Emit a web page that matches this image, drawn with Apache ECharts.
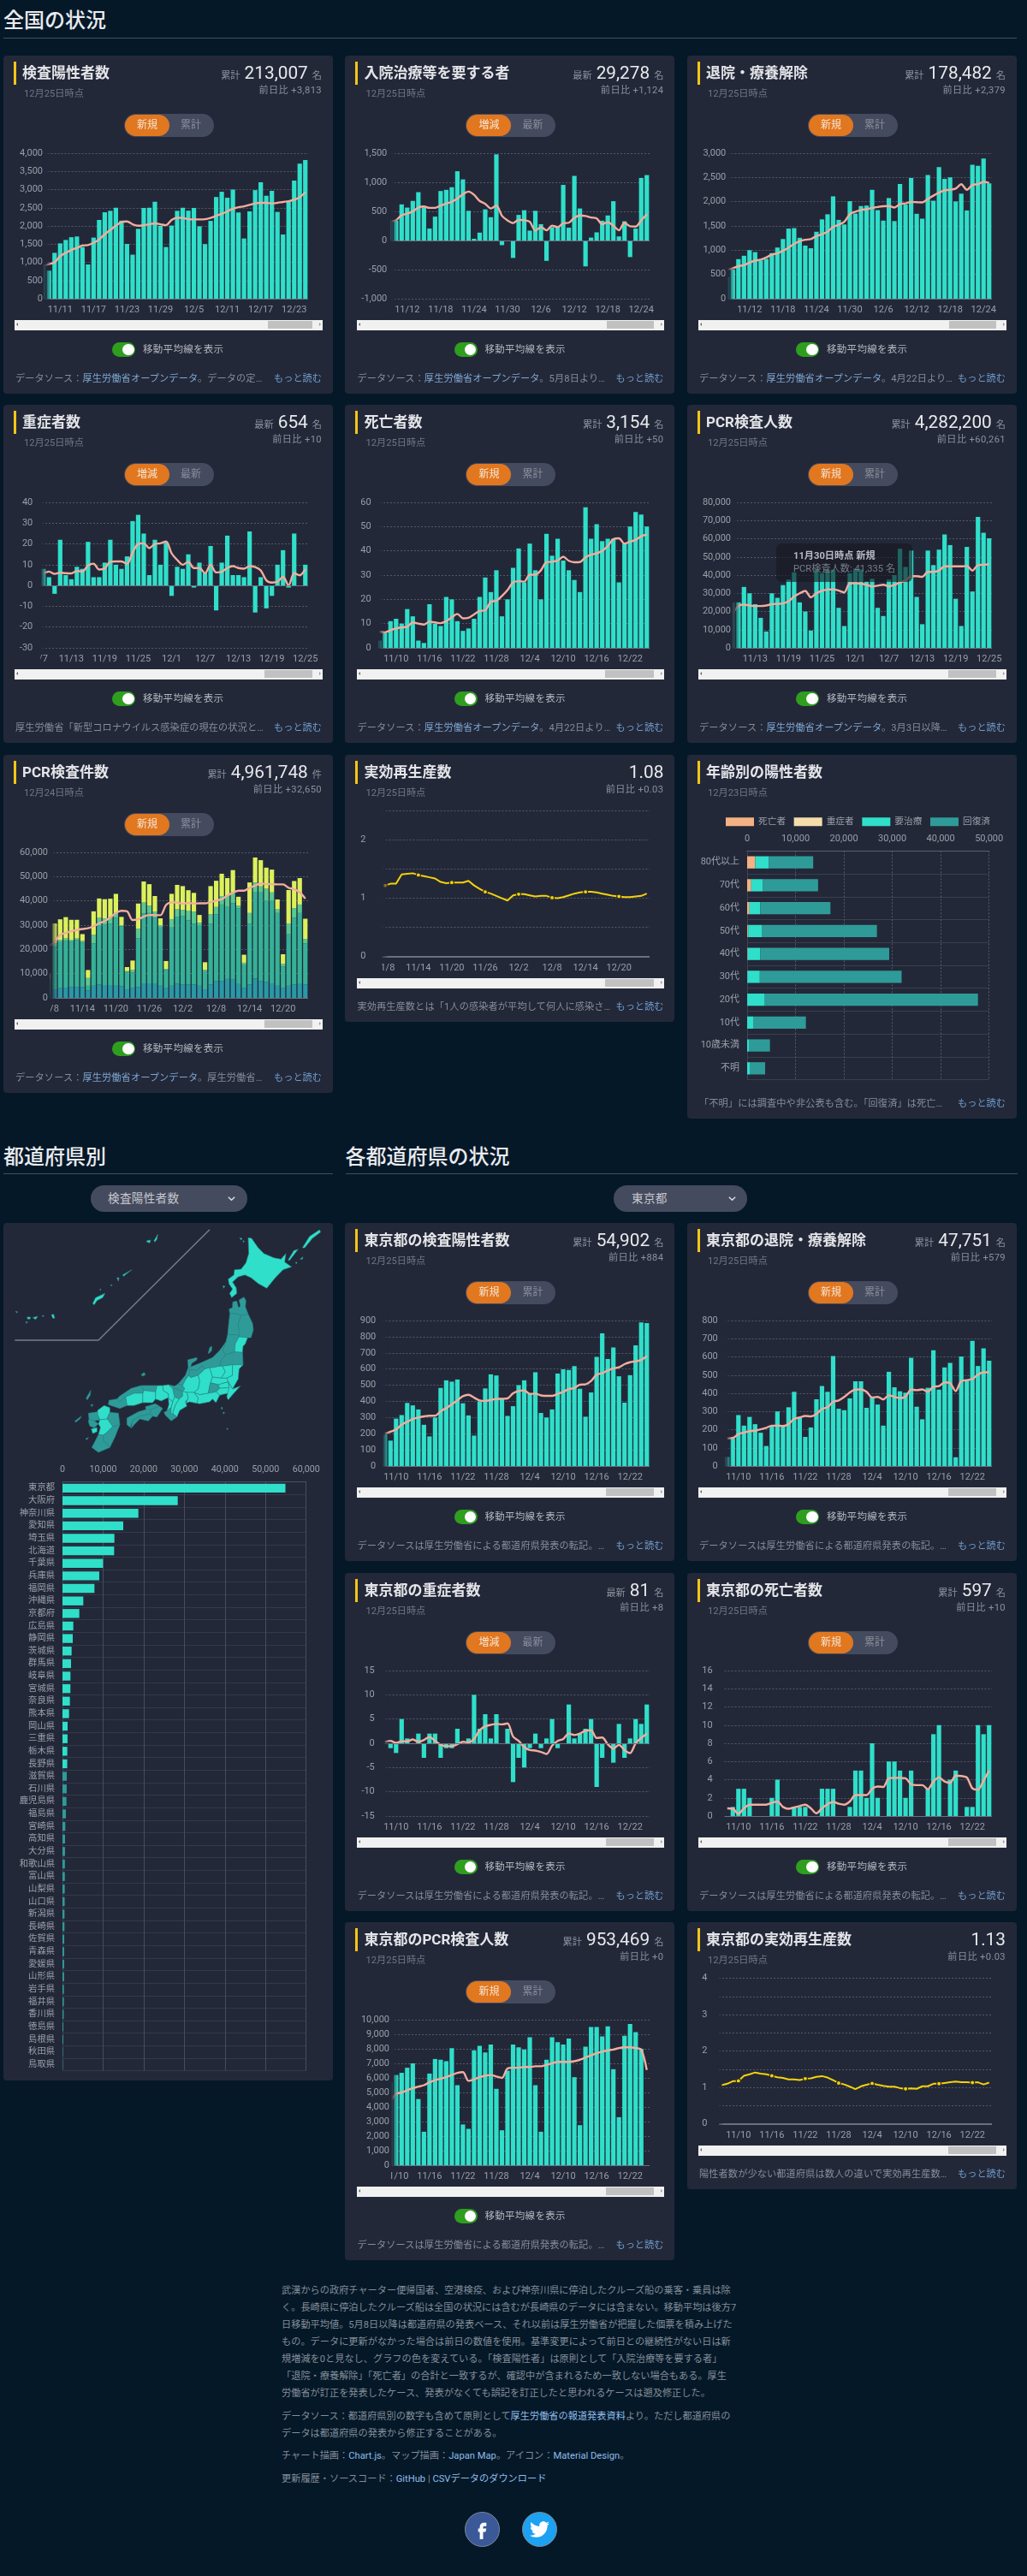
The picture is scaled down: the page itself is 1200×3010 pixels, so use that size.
<!DOCTYPE html>
<html lang="ja"><head><meta charset="utf-8">
<script src="https://cdn.jsdelivr.net/npm/echarts@6/dist/echarts.min.js"></script>
<style>
html,body{margin:0;padding:0;background:#051828;width:1200px;height:3010px;overflow:hidden;font-family:Roboto,"Noto Sans CJK JP",sans-serif;color:#ddd}
.abs{position:absolute;white-space:nowrap}
.h2{font-size:24px;font-weight:500;color:#e9ebee;line-height:30px}
.rule{height:1px;background:#40505f}
.card{position:absolute;background:#232839;border-radius:4px}
.chart{position:absolute;left:0;top:0}
.ybar{position:absolute;left:12px;top:7px;width:3px;height:27px;background:#f5c518}
.title{position:absolute;left:22px;top:6px;font-size:17px;line-height:28px;font-weight:700;color:#e4e5e8;white-space:nowrap}
.date{position:absolute;left:24px;top:37px;font-size:11.2px;line-height:16px;color:#6f7786;white-space:nowrap}
.stat{position:absolute;right:13px;top:5px;line-height:30px;display:flex;align-items:baseline;gap:5px;white-space:nowrap;color:#e9eaec;font-size:20.8px}
.stat small{font-size:11.2px;color:#8b909c}
.delta{position:absolute;right:13px;top:33px;font-size:11.2px;line-height:16px;color:#8b909c;white-space:nowrap;letter-spacing:.35px}
.tog{position:absolute;left:141px;top:67.5px;width:105px;height:27.5px;border-radius:14px;background:#454b5e;font-size:12px;line-height:27.5px;color:#8a8f9c}
.tog i{position:absolute;left:1px;top:1.2px;width:52px;height:25px;border-radius:13px;background:#e1771f}
.tog b,.tog span{position:absolute;top:0;font-weight:400;width:52px;text-align:center}
.tog b{left:1px;color:#f6e6d6}.tog span{left:52px}
.sw{position:absolute;left:127.3px;top:335px;width:27px;height:17px;border-radius:9px;background:#2f9e1f}
.sw i{position:absolute;right:1.5px;top:1.8px;width:13.4px;height:13.4px;border-radius:50%;background:#fff}
.swl{position:absolute;left:163px;top:335px;font-size:11.5px;line-height:17px;color:#b3b6be;white-space:nowrap;letter-spacing:.3px}
.scr{position:absolute;left:13.3px;top:309px;width:359.4px;height:11.7px;background:#f1f1f1}
.note{position:absolute;left:14px;font-size:11.2px;line-height:16px;color:#858c9a;white-space:nowrap;letter-spacing:.1px}
.note a,.foot a{color:#7ea7d2;text-decoration:none}
.more{position:absolute;right:13px;font-size:11.2px;line-height:16px;color:#6e9ccb;white-space:nowrap}
.dd{position:absolute;top:1385px;height:31px;border-radius:16px;background:#454b5e;font-size:13.6px;line-height:31px;color:#c5c8cf;letter-spacing:.3px}
.dd svg{position:absolute;top:10px}
.foot{position:absolute;left:329px;top:2667px;width:545px;font-size:11.2px;line-height:20px;color:#828d98}
.foot p{margin:0 0 6.7px;white-space:nowrap}
.foot a{color:#8fbce8}
.tip{position:absolute;background:rgba(22,24,32,.62);border-radius:6px;font-size:11.2px;line-height:15px;color:#777d89;padding:0;white-space:nowrap}
.soc{position:absolute;top:2935px;width:39px;height:39px;border-radius:50%;border:.8px solid #7c8a96}
.soc svg{position:absolute;left:8px;top:8px;width:23px;height:23px;fill:#fff}
</style></head><body>
<script>
/* ---------- data ---------- */
const dates=['11/7','11/8','11/9','11/10','11/11','11/12','11/13','11/14','11/15','11/16','11/17','11/18','11/19','11/20','11/21','11/22','11/23','11/24','11/25','11/26','11/27','11/28','11/29','11/30','12/1','12/2','12/3','12/4','12/5','12/6','12/7','12/8','12/9','12/10','12/11','12/12','12/13','12/14','12/15','12/16','12/17','12/18','12/19','12/20','12/21','12/22','12/23','12/24','12/25'];

const positiveBars=[910,770,1260,1520,1615,1690,1710,1420,940,1680,2165,2375,2415,2500,2145,1505,1210,1920,2495,2500,2665,2005,1420,2010,2415,2500,2420,2495,1990,1500,2140,2795,2940,2775,3000,2370,1655,2400,2985,3200,2830,2965,2385,1765,2665,3250,3710,3813];
const positiveAvg=[910,950,1000,1170,1260,1340,1395,1460,1475,1535,1630,1770,1890,2005,2110,2125,2045,2005,2020,2045,2070,2045,2020,2165,2225,2220,2185,2180,2180,2185,2220,2280,2335,2400,2475,2515,2540,2580,2620,2635,2635,2620,2635,2660,2680,2720,2790,2930];
const hospitalBars=[330,340,620,565,680,830,570,205,410,850,870,915,1190,1050,510,30,135,535,400,1480,-80,-15,-300,440,520,170,510,280,-350,230,230,955,220,1110,550,-445,50,140,340,430,675,70,330,-285,205,1075,1124];
const hospitalAvg=[330,350,435,460,500,565,585,560,560,600,635,665,720,795,840,785,680,630,550,600,425,345,300,355,350,320,170,230,175,255,230,295,305,390,430,420,395,380,280,315,255,175,305,245,240,345,450];
const dischargeBars=[450,600,815,885,1000,960,790,820,940,1055,1230,1445,1455,1255,1095,1040,1380,1635,1740,2110,1625,1530,2010,1755,1910,1920,2245,1825,1610,2075,1600,2365,1940,2490,1750,1650,2550,2020,2715,2470,2500,2005,2165,1820,2760,2740,2890,2379];
const dischargeAvg=[600,630,670,690,745,785,805,850,910,935,990,1050,1130,1185,1215,1230,1290,1330,1380,1480,1525,1585,1740,1795,1830,1845,1870,1890,1905,1910,1880,1950,1965,1995,1990,1985,2055,2125,2185,2235,2245,2270,2360,2245,2345,2360,2410,2390];
const severeBars=[null,8,4,-4,22,5,3,9,8,21,4,4,11,22,10,8,14,31,34,25,5,22,10,21,-5,9,8,15,-1,11,6,19,-12,11,24,5,5,4,26,-13,4,-11,-5,10,17,-1,25,0,10];
const severeAvg=[null,5.9,6.7,5.6,6.2,5.9,5.8,7,6.7,9.6,10.5,7.7,8.2,11.4,11.6,11.6,10.4,15.9,20,20.3,18,20,20.3,21.2,15.5,12.3,10,11.4,8.4,8.4,5.9,10,6.3,6.6,8.4,9.3,8.4,8.1,9.3,8.9,7.3,2.5,1.4,1.8,4.2,0,5.9,4.9,7.8];
const deathBars=[3,6,11,12,10,16,13,3,2,18,10,9,21,20,11,7,8,12,21,29,23,32,13,20,33,41,27,43,32,20,47,38,45,36,32,28,23,58,45,51,44,45,45,27,43,50,56,55,50];
const deathAvg=[6.7,6.4,7.3,8,8.4,8.7,10.5,10,9.6,10.8,10.5,10.2,11,12.6,14,12.2,12.4,13.8,15.2,15.5,19,19.4,21.4,23.8,27,27.5,27.3,30.2,30.2,32,35.3,35.5,36,37.6,35.9,35.3,35.4,37.3,38.4,39,40,42,44.8,45.2,43,43.8,44.5,46,46.7];
const pcrPeopleBars=[25000,25000,33500,30000,24000,16500,9000,30000,27500,34500,37500,41500,25000,20000,9500,43000,41000,43000,43000,22000,12000,41000,43500,43000,36500,38000,22000,17500,37500,40000,54500,44500,53500,28000,13000,53500,45500,54000,62300,56500,27000,12000,55500,31000,72000,63300,60261];
const pcrPeopleAvg=[19000,23000,23800,23300,23000,23000,23300,24000,24200,24400,25600,28200,30000,31300,27800,30000,31500,32000,32200,31500,30500,35500,35500,35300,34700,33800,34200,34700,33800,34700,36000,37000,39400,39400,39000,41800,41800,42500,44800,44800,44800,44800,45000,42500,45500,45700,46000];
/* PCR test counts: the four stacked layers, written as the height each layer reaches */
const pcrLayerA=[3000,3500,4000,4200,4500,4500,4500,3000,5000,5500,5300,5300,5000,4800,3500,4200,4500,6000,6000,6000,5000,4000,5000,5800,5500,5500,5500,5000,3500,5500,7000,7000,7800,7500,6000,4000,5500,8000,7000,6500,6000,5000,4000,5000,5500,6000,5500];
const pcrLayerB=[7000,21000,23000,23600,23200,23800,22800,5000,22500,30000,30300,30500,33000,29500,10700,10500,24500,34800,35000,33000,29000,11500,29000,33500,33800,32000,30500,30000,11000,30500,34500,38500,37500,39000,37000,13500,30500,43500,43500,40000,40000,35000,13000,26200,33000,35000,22500];
const pcrLayerC=[8000,22500,24000,24500,24000,24500,23500,8200,26000,33000,32800,33000,35000,30000,11000,11500,28500,39300,38000,35500,30000,12000,32500,36500,36300,36000,35500,31000,11500,34500,37500,42000,42000,43500,38000,14500,35000,47500,46000,45000,43500,36500,14000,30700,37000,38500,24200];
const pcrTotal=[10000,30700,32400,33300,32200,32200,26300,11500,35700,41000,40700,40900,42900,33400,12700,15400,38900,48000,46900,42000,32800,15200,42900,46600,46100,44400,43300,34200,14700,46100,48300,51200,49400,52700,41700,17800,47600,57900,56800,53700,52900,40600,18000,44500,48200,49400,32650];
const pcrTestsAvg=[21600,23000,26000,26800,27500,28000,28400,28700,29600,30700,31700,33200,35000,35900,35700,32100,32400,33500,34200,34100,34100,38300,39400,39300,38800,39200,38900,39000,39000,39500,40100,40700,42200,43400,44200,44200,45400,46300,47200,46900,46900,46800,46800,45400,44800,43600,40900];
const rtNational=[1.22,1.25,1.25,1.41,1.42,1.43,1.40,1.38,1.36,1.34,1.28,1.26,1.27,1.27,1.27,1.30,1.22,1.16,1.11,1.08,1.04,1.00,0.96,1.05,1.07,1.07,1.05,1.03,1.04,1.04,1.01,1.00,1.02,1.05,1.08,1.10,1.11,1.11,1.10,1.08,1.06,1.04,1.03,1.02,1.02,1.03,1.04,1.08];

const ageGroups=['80代以上','70代','60代','50代','40代','30代','20代','10代','10歳未満','不明'];
const ageDeaths=[1650,770,350,120,50,20,5,1,0,0];
const ageSevere=[30,90,120,110,60,20,5,0,0,0];
const ageCare=[2830,2420,2240,2890,2600,2580,3650,1240,350,530];
const ageRecovered=[9140,11380,14500,23700,26650,29300,44040,10900,4360,3180];
const ageLegend=['死亡者','重症者','要治療','回復済'];

const prefNames=['東京都','大阪府','神奈川県','愛知県','埼玉県','北海道','千葉県','兵庫県','福岡県','沖縄県','京都府','広島県','静岡県','茨城県','群馬県','岐阜県','宮城県','奈良県','熊本県','岡山県','三重県','栃木県','長野県','滋賀県','石川県','鹿児島県','福島県','宮崎県','高知県','大分県','和歌山県','富山県','山梨県','山口県','新潟県','長崎県','佐賀県','青森県','愛媛県','山形県','岩手県','福井県','香川県','徳島県','島根県','秋田県','鳥取県'];
const prefPositive=[54902,28385,18690,14965,12790,12720,9977,9060,7870,5130,4145,2670,2530,2250,2108,1967,1950,1827,1616,1265,1250,1190,1170,1050,1040,980,850,700,630,620,600,580,560,540,500,490,430,420,410,400,350,340,300,220,210,110,70];

const tokyoPositiveBars=[195,157,293,315,390,375,350,255,183,300,483,530,522,535,388,313,188,400,480,567,560,415,310,370,500,530,450,580,328,300,350,572,598,594,618,478,305,455,675,820,662,733,555,392,562,746,888,884];
const tokyoPositiveAvg=[200,212,226,256,274,291,300,307,311,311,339,358,381,406,432,441,423,406,402,409,415,416,418,450,464,468,446,448,437,434,434,446,459,476,483,503,505,526,565,574,591,604,611,630,642,648,656,680];
const tokyoDischargeBars=[50,150,280,222,270,230,183,110,220,300,220,323,408,265,160,212,367,440,408,605,315,307,372,466,466,320,380,338,222,518,433,411,403,595,326,257,430,637,420,542,567,48,602,470,688,550,647,579];
const tokyoDischargeAvg=[152,154,176,184,192,194,202,210,222,222,220,231,259,267,275,273,286,314,323,353,361,380,405,420,421,408,377,380,366,389,380,373,381,420,417,421,408,436,439,460,455,412,467,472,478,502,515,515];
const tokyoSevereBars=[0,-1,-2,5,1,0,2,-3,2,2,-3,-1,-1,3,0,1,10,3,6,1,6,0,3,-8,-3,-5,-1,2,-1,1,5,-1,0,8,1,2,3,5,-9,-3,0,-4,4,-3,1,5,4,8];
const tokyoSevereAvg=[.3,.5,.1,.4,.4,.8,.3,.7,1.3,.5,-.3,-.6,-.6,-.2,.3,.2,.9,2.7,3.5,3.8,4,3.9,4.1,1.4,.5,-.8,-1.4,-1.5,-1.8,-2.2,-.5,.5,.9,2,1.7,2,2.6,2.7,1.1,1.2,-.2,-1.1,-.3,-1.4,-2,0,1.1,2];
const tokyoDeathBars=[0,1,3,3,2,0,0,0,2,4,0,0,1,1,1,0,0,3,3,3,0,0,1,5,5,2,8,2,0,6,6,5,2,5,0,0,3,9,10,0,4,5,0,1,1,10,9,10];
const tokyoDeathAvg=[.85,.8,.25,.85,1.25,1.25,1.25,1.25,1.45,1.6,1,.8,.95,1.1,1.25,.85,.3,.85,1.3,1.55,1.35,1.25,1.6,2.3,2.3,2.3,3,3.25,3.2,4.15,4.2,4.2,4.15,3.5,3.4,3.4,2.95,3.8,4.25,3.8,3.65,4.45,4.4,4.25,3.05,2.9,3.9,5];
const tokyoPcrBars=[5700,6200,6350,6700,7000,4550,2300,6300,7300,7250,7150,8050,5500,2800,2500,7900,8200,7750,8300,5250,2400,6500,8300,8100,7950,8800,5500,2300,7250,8800,8450,8300,8700,6050,2750,8150,9500,9500,8850,9550,6600,3300,8900,9700,9150,8000,0];
const tokyoPcrAvg=[4400,4900,5000,5150,5300,5400,5500,5700,5850,5950,6050,6200,6350,6400,5800,5900,6050,6150,6200,6100,6000,6650,6700,6700,6750,6750,6800,6800,6900,7000,7100,7100,7100,7150,7250,7400,7550,7700,7800,7900,7950,8050,8100,8100,8050,7950,6550];
const rtTokyo=[1.06,1.10,1.17,1.18,1.32,1.36,1.41,1.38,1.36,1.32,1.28,1.26,1.22,1.22,1.20,1.24,1.25,1.29,1.31,1.27,1.20,1.12,1.08,1.02,0.95,1.03,1.07,1.11,1.07,1.04,1.02,1.02,0.98,0.96,0.97,0.96,1.03,1.03,1.10,1.10,1.12,1.14,1.16,1.14,1.14,1.13,1.14,1.08,1.13];

/* simplified prefecture outlines for the map series (traced, y grows downward) */
const prefShapes={
'北海道':[[[870,350],[882,352],[905,385],[925,405],[960,420],[985,425],[1002,405],[998,435],[1022,452],[992,462],[965,490],[935,527],[905,510],[880,490],[858,480],[835,487],[815,505],[828,525],[830,545],[812,560],[805,545],[815,530],[803,512],[800,495],[820,480],[822,462],[845,460],[862,438],[872,405]],[[1060,385],[1085,345],[1120,322],[1124,330],[1095,352],[1068,385]],[[1010,428],[1030,395],[1045,390],[1022,420],[1014,430]],[[1052,425],[1062,417],[1060,425]],[[1035,437],[1040,435],[1040,441]],[[840,350],[848,352],[846,358]],[[852,360],[856,362],[853,367]],[[782,518],[788,520],[784,527]]],
'青森県':[[[803,600],[815,595],[816,575],[830,572],[836,595],[843,590],[838,568],[855,558],[862,570],[860,592],[870,618],[845,622],[822,615],[806,615]]],
'岩手県':[[[845,622],[870,618],[885,650],[888,672],[880,700],[868,700],[838,697],[835,650]]],
'秋田県':[[[806,615],[822,615],[845,622],[835,650],[838,697],[830,690],[798,690],[802,650]]],
'山形県':[[[798,690],[830,690],[838,697],[825,720],[822,750],[790,760],[780,745],[792,715]]],
'宮城県':[[[838,697],[868,700],[860,722],[852,730],[850,752],[822,750],[825,720]]],
'福島県':[[[790,760],[822,750],[850,752],[852,795],[815,795],[780,800],[770,800],[775,780]]],
'新潟県':[[[792,715],[780,745],[790,760],[775,780],[770,800],[745,805],[735,805],[718,810],[708,798],[690,815],[665,812],[662,805],[700,790],[745,770],[770,745]],[[730,755],[735,735],[742,730],[742,745],[733,755]]],
'富山県':[[[662,832],[665,812],[690,815],[708,798],[718,810],[695,832],[668,840]]],
'石川県':[[[625,862],[650,832],[660,805],[658,778],[690,770],[690,778],[672,790],[665,812],[662,832],[650,848],[640,868]]],
'福井県':[[[590,865],[612,870],[625,862],[640,868],[648,880],[640,888],[620,880],[605,878]]],
'滋賀県':[[[605,878],[620,880],[640,888],[640,905],[628,915],[612,908],[608,892]]],
'岐阜県':[[[640,868],[650,848],[662,832],[668,840],[695,832],[700,852],[695,880],[680,892],[655,892],[640,888],[648,880]]],
'長野県':[[[695,832],[718,810],[735,805],[745,838],[738,858],[735,870],[730,895],[700,900],[680,892],[695,880],[700,852]]],
'群馬県':[[[735,805],[745,805],[770,800],[780,800],[790,820],[775,842],[745,838]]],
'栃木県':[[[780,800],[815,795],[815,832],[795,842],[775,842],[790,820]]],
'茨城県':[[[815,795],[852,795],[838,810],[835,845],[815,880],[800,855],[795,842],[815,832]]],
'埼玉県':[[[745,838],[775,842],[795,842],[800,855],[765,865],[738,858]]],
'東京都':[[[765,865],[800,855],[803,875],[770,878]],[[775,945],[780,945],[778,952]],[[782,962],[787,962],[784,968]],[[795,1018],[799,1018],[797,1023]]],
'山梨県':[[[735,870],[738,858],[765,865],[770,878],[758,890],[730,895]]],
'神奈川県':[[[770,878],[803,875],[800,895],[785,898],[770,902],[758,890]]],
'千葉県':[[[800,855],[815,880],[842,870],[815,900],[800,918],[795,908],[803,875]]],
'静岡県':[[[680,892],[700,900],[730,895],[758,890],[770,902],[757,928],[745,915],[735,925],[700,932],[690,930],[695,912]]],
'愛知県':[[[655,892],[680,892],[695,912],[690,930],[665,925],[650,930],[660,912]]],
'三重県':[[[640,905],[640,888],[655,892],[660,912],[650,925],[655,940],[630,955],[620,978],[612,972],[605,965],[615,935],[628,915]]],
'奈良県':[[[605,925],[612,908],[628,915],[615,935],[605,965],[612,972],[598,965],[600,945]]],
'大阪府':[[[590,910],[605,925],[600,945],[585,957],[592,935]]],
'京都府':[[[570,868],[590,865],[605,878],[608,892],[612,908],[605,925],[590,910],[590,897],[572,885]]],
'兵庫県':[[[550,868],[570,868],[572,885],[590,897],[590,910],[565,922],[545,915],[545,890]]],
'和歌山県':[[[585,957],[600,945],[598,965],[612,972],[620,978],[600,992],[580,972],[575,962]]],
'鳥取県':[[[495,868],[550,868],[545,890],[505,885]]],
'岡山県':[[[505,885],[545,890],[545,915],[535,928],[500,928],[500,895]]],
'島根県':[[[410,915],[420,905],[460,878],[495,868],[505,885],[500,895],[470,895],[440,908],[420,925]],[[495,830],[505,822],[510,830],[500,835]]],
'広島県':[[[440,908],[470,895],[500,895],[500,928],[470,938],[445,938]]],
'山口県':[[[382,920],[410,915],[420,925],[440,908],[445,938],[420,948],[395,940],[380,935]]],
'香川県':[[[510,942],[545,932],[558,940],[530,952],[512,952]]],
'徳島県':[[[530,952],[558,940],[570,948],[550,978],[535,975],[525,968]]],
'愛媛県':[[[445,982],[485,960],[512,952],[530,952],[525,968],[490,975],[465,990],[457,1015],[445,1005]]],
'高知県':[[[465,990],[490,975],[525,968],[535,975],[520,992],[490,985],[470,1005],[460,1018],[457,1015]]],
'福岡県':[[[342,955],[365,938],[385,945],[385,962],[375,985],[350,988],[342,970]]],
'佐賀県':[[[310,965],[342,960],[342,970],[350,988],[330,992],[312,985]]],
'長崎県':[[[312,985],[330,992],[345,1002],[330,1016],[315,1010],[310,995]],[[302,912],[318,885],[316,902],[306,918]],[[318,935],[326,935],[322,942]],[[262,993],[285,975],[280,985],[266,996]]],
'大分県':[[[385,962],[415,965],[420,1005],[395,1012],[380,990],[375,985]]],
'熊本県':[[[350,988],[375,985],[380,990],[395,1012],[372,1035],[362,1042],[345,1040],[352,1015],[345,1002]],[[320,1020],[340,1015],[340,1030],[325,1036]]],
'宮崎県':[[[395,1012],[420,1005],[402,1050],[385,1085],[362,1060],[362,1042],[372,1035]]],
'鹿児島県':[[[345,1040],[362,1042],[362,1060],[385,1085],[345,1102],[322,1085],[335,1060]],[[300,1055],[310,1050],[305,1058]]],
'沖縄県':[[[515,360],[528,358],[525,368],[515,365]],[[540,360],[553,338],[550,355],[543,365]],[[430,480],[462,462],[445,475],[433,485]],[[410,490],[417,490],[415,502]],[[325,580],[335,560],[368,545],[360,560],[340,570],[330,585]],[[95,628],[107,628],[105,635],[97,635]],[[115,630],[132,625],[125,636]],[[180,620],[188,618],[192,632],[185,632]],[[55,608],[62,610],[58,613]],[[90,645],[97,645],[93,650]],[[148,623],[154,623],[151,627]],[[350,530],[354,530],[352,534]],[[388,515],[393,515],[390,519]]]
};

/* ---------- styles ---------- */
const FONT='Roboto,"Noto Sans CJK JP",sans-serif';
const CARD='#232839', TEAL='#2fdfca', DARK='#2f9b99', AVG='#f3ad9e', GRID='#555a6b', TICK='#9a9fa9';
const AGE_COLORS=['#f4b183','#f5dcab',TEAL,DARK];
const PCR_COLORS=['#2a98a6','#35b197','#58c992','#dcf05c'];
const src='データソース：', mhlw='厚生労働省オープンデータ', tk='データソースは厚生労働省による都道府県発表の転記。…';
const cards=[
{x:4,y:65,title:'検査陽性者数',date:'12月25日時点',lab:'累計',val:'213,007',unit:'名',delta:'+3,813',tog:['新規','累計'],note:[src,mhlw,'。データの定…'],bars:positiveBars,avg:positiveAvg,start:'11/8',anchor:'12/23',min:0,max:4000,step:500,pl:47.7,lr:46,th:308.7},
{x:403.4,y:65,title:'入院治療等を要する者',date:'12月25日時点',lab:'最新',val:'29,278',unit:'名',delta:'+1,124',tog:['増減','最新'],note:[src,mhlw,'。5月8日より…'],bars:hospitalBars,avg:hospitalAvg,start:'11/9',anchor:'12/24',min:-1000,max:1500,step:500,pl:53.7,lr:49.3,th:306},
{x:803,y:65,title:'退院・療養解除',date:'12月25日時点',lab:'累計',val:'178,482',unit:'名',delta:'+2,379',tog:['新規','累計'],note:[src,mhlw,'。4月22日より…'],bars:dischargeBars,avg:dischargeAvg,start:'11/8',anchor:'12/24',min:0,max:3000,step:500,pl:47,lr:45.3,th:306},
{x:4,y:473,title:'重症者数',date:'12月25日時点',lab:'最新',val:'654',unit:'名',delta:'+10',tog:['増減','最新'],note:['厚生労働省「新型コロナウイルス感染症の現在の状況と…','',''],bars:severeBars,avg:severeAvg,start:'11/7',anchor:'12/25',min:-30,max:40,step:10,pl:43.3,lr:34.3,th:305},
{x:403.4,y:473,title:'死亡者数',date:'12月25日時点',lab:'累計',val:'3,154',unit:'名',delta:'+50',tog:['新規','累計'],note:[src,mhlw,'。4月22日より…'],bars:deathBars,avg:deathAvg,start:'11/7',anchor:'12/22',min:0,max:60,step:10,pl:39.3,lr:30.7,th:304},
{x:803,y:473,title:'PCR検査人数',date:'12月25日時点',lab:'累計',val:'4,282,200',unit:'名',delta:'+60,261',tog:['新規','累計'],note:[src,mhlw,'。3月3日以降…'],bars:pcrPeopleBars,avg:pcrPeopleAvg,start:'11/9',anchor:'12/25',min:0,max:80000,step:10000,pl:53.6,lr:51,th:305,tip:true},
{x:4,y:882,title:'PCR検査件数',date:'12月24日時点',lab:'累計',val:'4,961,748',unit:'件',delta:'+32,650',tog:['新規','累計'],note:[src,mhlw,'。厚生労働省…'],stack:true,avg:pcrTestsAvg,start:'11/8',end:'12/24',anchor:'12/20',min:0,max:60000,step:10000,pl:54.7,lr:52,th:304.6},
{x:403.4,y:882,h:312,title:'実効再生産数',date:'12月25日時点',lab:'',val:'1.08',unit:'',delta:'+0.03',rt:rtNational,note:['実効再生産数とは「1人の感染者が平均して何人に感染さ…','',''],start:'11/8',anchor:'12/20',min:0,max:2.5,step:.5,pl:43.4,lr:24.5,th:304},
{x:803,y:1429,title:'東京都の退院・療養解除',date:'12月25日時点',lab:'累計',val:'47,751',unit:'名',delta:'+579',tog:['新規','累計'],note:[tk,'',''],bars:tokyoDischargeBars,avg:tokyoDischargeAvg,start:'11/8',anchor:'12/22',min:0,max:800,step:100,pl:44.4,lr:35.8,th:305},
{x:403.4,y:1429,title:'東京都の検査陽性者数',date:'12月25日時点',lab:'累計',val:'54,902',unit:'名',delta:'+884',tog:['新規','累計'],note:[tk,'',''],bars:tokyoPositiveBars,avg:tokyoPositiveAvg,start:'11/8',anchor:'12/22',min:0,max:900,step:100,pl:43.9,lr:36.3,th:305},
{x:403.4,y:1838,title:'東京都の重症者数',date:'12月25日時点',lab:'最新',val:'81',unit:'名',delta:'+8',tog:['増減','最新'],note:[tk,'',''],bars:tokyoSevereBars,avg:tokyoSevereAvg,start:'11/8',anchor:'12/22',min:-15,max:15,step:5,pl:44,lr:34.8,th:305},
{x:803,y:1838,title:'東京都の死亡者数',date:'12月25日時点',lab:'累計',val:'597',unit:'名',delta:'+10',tog:['新規','累計'],note:[tk,'',''],bars:tokyoDeathBars,avg:tokyoDeathAvg,start:'11/8',anchor:'12/22',min:0,max:16,step:2,pl:36.8,lr:29.6,th:305},
{x:403.4,y:2246,title:'東京都のPCR検査人数',date:'12月25日時点',lab:'累計',val:'953,469',unit:'名',delta:'+0',tog:['新規','累計'],note:[tk,'',''],bars:tokyoPcrBars,avg:tokyoPcrAvg,start:'11/9',anchor:'12/22',min:0,max:10000,step:1000,pl:54,lr:52,th:305},
{x:803,y:2246,h:312,title:'東京都の実効再生産数',date:'12月25日時点',lab:'',val:'1.13',unit:'',delta:'+0.03',rt:rtTokyo,note:['陽性者数が少ない都道府県は数人の違いで実効再生産数…','',''],start:'11/7',anchor:'12/22',min:0,max:4,step:.5,pl:34.8,lr:23.5,th:305}
];

/* ---------- page helpers ---------- */
function add(parent,cls,css,html){const d=document.createElement('div');if(cls)d.className=cls;if(css)d.style.cssText=css;if(html!=null)d.innerHTML=html;parent.appendChild(d);return d;}
function shell(x,y,w,h){const c=add(document.body,'card',`left:${x}px;top:${y}px;width:${w}px;height:${h}px`);const ch=add(c,'chart',`width:${w}px;height:${h}px`);return {c,ch};}
function head(c,o){add(c,'ybar');add(c,'title','',o.title);add(c,'date','',o.date);
  if(o.val)add(c,'stat','',(o.lab?`<small>${o.lab}</small>`:'')+`<span>${o.val}</span>`+(o.unit?`<small>${o.unit}</small>`:''));
  if(o.delta)add(c,'delta','','前日比 '+o.delta);}
function notes(c,n,top){add(c,'note',`top:${top-8}px`,n[0]+(n[1]?`<a>${n[1]}</a>`:'')+n[2]);add(c,'more',`top:${top-8}px`,'もっと読む');}
function scroll(c,top,th){const s=add(c,'scr',`top:${top}px`);
  add(s,'',`position:absolute;top:1.3px;height:9px;background:#c1c1c1;left:${th-13.3}px;width:${361-th}px`);
  add(s,'','position:absolute;top:3.3px;left:2px;border:2.6px solid transparent;border-right-color:#666;border-left:0');
  add(s,'','position:absolute;top:3.3px;right:2px;border:2.6px solid transparent;border-left-color:#999;border-right:0');}
function headings(){
  add(document.body,'abs h2','left:4px;top:9px','全国の状況');
  add(document.body,'abs rule','left:4px;top:44px;width:1184px');
  add(document.body,'abs h2','left:4px;top:1337px','都道府県別');
  add(document.body,'abs rule','left:4px;top:1371px;width:385px');
  add(document.body,'abs h2','left:403.5px;top:1337px','各都道府県の状況');
  add(document.body,'abs rule','left:403.5px;top:1371px;width:785px');
  const chev='<svg width="11" height="11" viewBox="0 0 12 12"><path d="M2 4l4 4 4-4" fill="none" stroke="#d8dbe0" stroke-width="1.6"/></svg>';
  add(document.body,'dd','left:106px;width:183px',`<span style="position:absolute;left:20px">検査陽性者数</span>`+chev).querySelector('svg').style.left='159px';
  add(document.body,'dd','left:717px;width:156px',`<span style="position:absolute;left:21px">東京都</span>`+chev).querySelector('svg').style.left='133px';
}
headings();

/* ---------- time-series card ---------- */
function mask(pl,top,bottom){
  return [
   {type:'rect',silent:true,z:6,shape:{x:0,y:top-8,width:pl,height:bottom-top+30},style:{fill:CARD}},
   {type:'rect',silent:true,z:6,shape:{x:pl,y:top-8,width:8,height:bottom-top+9},style:{fill:new echarts.graphic.LinearGradient(0,0,1,0,[{offset:0,color:CARD},{offset:1,color:'rgba(35,40,57,0)'}])}}
  ];
}
function seriesCard(o){
  const h=o.h||395, w=385, isRt=!!o.rt;
  const {c,ch}=shell(o.x,o.y,w,h);
  head(c,o);
  const top=isRt?65.7:114, bottom=isRt?235.5:284;
  if(!isRt){
    const t=add(c,'tog');
    t.insertAdjacentHTML('beforeend',`<i></i><b>${o.tog[0]}</b><span>${o.tog[1]}</span>`);
    const sw=add(c,'sw');sw.innerHTML='<i></i>';
    add(c,'swl','','移動平均線を表示');
  }
  scroll(c,isRt?261:309,o.th);
  notes(c,o.note,isRt?295:378);
  const cats=dates.slice(dates.indexOf(o.start),o.end?dates.indexOf(o.end)+1:dates.length);
  const N=cats.length, R=356, gl=R-6.51*N;
  const anchor=cats.indexOf(o.anchor);
  const zeroLine={silent:true,symbol:'none',label:{show:false},animation:false,lineStyle:{color:'#6b7080',type:'solid',width:isRt?2:1},data:[{yAxis:0}]};
  const series=[];
  if(isRt){
    series.push({type:'line',data:o.rt,z:3,smooth:false,symbol:'circle',symbolSize:5,lineStyle:{color:'#f5d20b',width:2},itemStyle:{color:'#f5d20b',borderColor:'#2a2a26',borderWidth:1.1},markLine:zeroLine});
  }else if(o.stack){
    const pieces=[pcrLayerA,pcrLayerB.map((v,i)=>v-pcrLayerA[i]),pcrLayerC.map((v,i)=>v-pcrLayerB[i]),pcrTotal.map((v,i)=>v-pcrLayerC[i])];
    pieces.forEach((p,i)=>series.push({type:'bar',stack:'t',data:p,z:2,barWidth:5.2,itemStyle:{color:PCR_COLORS[i]},markLine:i==0?zeroLine:undefined}));
    series.push({type:'line',data:o.avg,z:3,smooth:.3,symbol:'none',lineStyle:{color:AVG,width:2.4}});
  }else{
    series.push({type:'bar',data:o.bars,z:2,barWidth:5.2,itemStyle:{color:TEAL},markLine:zeroLine});
    series.push({type:'line',data:o.avg,z:3,smooth:.3,symbol:'none',connectNulls:false,lineStyle:{color:AVG,width:2.4}});
  }
  const fmt=v=>isRt?(Number.isInteger(v)?String(v):''):Number(v).toLocaleString('en-US');
  const chart=echarts.init(ch);
  chart.setOption({animation:false,textStyle:{fontFamily:FONT},
    grid:{left:gl,top:top,width:R-gl,height:bottom-top,containLabel:false},
    xAxis:{type:'category',data:cats,boundaryGap:true,axisLine:{show:false},axisTick:{show:false},
      axisLabel:{color:TICK,fontSize:11,fontFamily:FONT,margin:8,hideOverlap:false,showMinLabel:true,showMaxLabel:true,interval:(i)=>((i-anchor)%6===0)},splitLine:{show:false}},
    yAxis:[
      {type:'value',position:'left',min:o.min,max:o.max,interval:o.step,axisLine:{show:false},axisTick:{show:false},axisLabel:{show:false},splitLine:{lineStyle:{color:GRID,type:[2,2],width:1}}},
      {type:'value',position:'left',z:10,min:o.min,max:o.max,interval:o.step,axisLine:{show:false},axisTick:{show:false},splitLine:{show:false},
        axisLabel:{color:TICK,fontSize:11,fontFamily:FONT,margin:gl-o.lr,formatter:fmt}}
    ],
    series,
    graphic:{elements:mask(o.pl,top,bottom)}
  });
  if(o.tip){
    add(c,'tip','left:104px;top:162px;width:159px;height:45px',
      `<div style="position:absolute;left:20px;top:7px;font-weight:700;color:#b9bcc4">11月30日時点 新規</div><div style="position:absolute;left:20px;top:22px">PCR検査人数: 41,335 名</div>`);
  }
}
cards.forEach(seriesCard);

/* ---------- age card ---------- */
(function(){
  const {c,ch}=shell(803,882,385,425);
  head(c,{title:'年齢別の陽性者数',date:'12月23日時点'});
  notes(c,['「不明」には調査中や非公表も含む。「回復済」は死亡…','',''],408);
  const vals=[ageDeaths,ageSevere,ageCare,ageRecovered];
  echarts.init(ch).setOption({animation:false,textStyle:{fontFamily:FONT},
    legend:{left:40,top:68,itemWidth:33,itemHeight:10,itemGap:9.6,icon:'rect',data:ageLegend,textStyle:{color:TICK,fontSize:10.7,fontFamily:FONT}},
    grid:{left:70,top:112.3,width:282.7,height:267.4},
    xAxis:{type:'value',position:'top',min:0,max:50000,interval:10000,axisLine:{show:true,lineStyle:{color:'#5a5f6e'}},axisTick:{show:false},
      axisLabel:{color:TICK,fontSize:11,fontFamily:FONT,margin:9,formatter:v=>Number(v).toLocaleString('en-US')},splitLine:{lineStyle:{color:GRID,type:[2,2]}}},
    yAxis:{type:'category',inverse:true,data:ageGroups,axisLine:{lineStyle:{color:'#3f4454'}},axisTick:{length:8,lineStyle:{color:'#3a3f4f'}},
      axisLabel:{color:TICK,fontSize:11,fontFamily:FONT,margin:9,interval:0},splitLine:{show:true,interval:0,lineStyle:{color:'#3a3f4f'}}},
    series:ageLegend.map((n,i)=>({name:n,type:'bar',stack:'a',barWidth:14.3,data:vals[i],itemStyle:{color:AGE_COLORS[i]}}))
  });
})();

/* ---------- prefecture card ---------- */
(function(){
  const {c,ch}=shell(4,1429,385,1002);
  const geo={type:'FeatureCollection',features:Object.keys(prefShapes).map(n=>({type:'Feature',properties:{name:n},geometry:{type:'MultiPolygon',coordinates:prefShapes[n].map(r=>[r.concat([r[0]]).map(p=>[p[0],-p[1]])])}}))};
  echarts.registerMap('japan',geo);
  const shade=v=>v>=1100?TEAL:DARK;
  echarts.init(ch).setOption({animation:false,textStyle:{fontFamily:FONT},
    grid:{left:69,top:302.6,width:284.7,height:688},
    xAxis:{type:'value',position:'top',min:0,max:60000,interval:10000,axisLine:{show:true,lineStyle:{color:'#4d5261'}},axisTick:{show:false},
      axisLabel:{color:TICK,fontSize:10.7,fontFamily:FONT,margin:9,formatter:v=>Number(v).toLocaleString('en-US')},splitLine:{lineStyle:{color:'#474c5c'}}},
    yAxis:{type:'category',inverse:true,data:prefNames,axisLine:{lineStyle:{color:'#3f4454'}},axisTick:{length:8,lineStyle:{color:'#343949'}},
      axisLabel:{color:TICK,fontSize:10.3,fontFamily:FONT,margin:9,interval:0},splitLine:{show:true,interval:0,lineStyle:{color:'#343949'}}},
    series:[
      {type:'bar',barWidth:10.4,data:prefPositive.map(v=>({value:v,itemStyle:{color:shade(v)}}))},
      {type:'map',map:'japan',aspectScale:1,left:0,top:0,width:385,height:274,boundingCoords:[[12,-298],[1167,-1120]],silent:true,selectedMode:false,label:{show:false},emphasis:{disabled:true},
        itemStyle:{borderColor:'#27898a',borderWidth:.6},
        data:prefNames.map((n,i)=>({name:n,value:prefPositive[i],itemStyle:{areaColor:shade(prefPositive[i])}}))}
    ],
    graphic:{elements:[{type:'polyline',silent:true,shape:{points:[[13.3,137],[111,137],[241,7.7]]},style:{stroke:'#7a7d86',lineWidth:1.4,fill:null}}]}
  });
})();

/* ---------- footer ---------- */
add(document.body,'foot','',`<p>武漢からの政府チャーター便帰国者、空港検疫、および神奈川県に停泊したクルーズ船の乗客・乗員は除<br>く。長崎県に停泊したクルーズ船は全国の状況には含むが長崎県のデータには含まない。移動平均は後方7<br>日移動平均値。5月8日以降は都道府県の発表ベース、それ以前は厚生労働省が把握した個票を積み上げた<br>もの。データに更新がなかった場合は前日の数値を使用。基準変更によって前日との継続性がない日は新<br>規増減を0と見なし、グラフの色を変えている。「検査陽性者」は原則として「入院治療等を要する者」<br>「退院・療養解除」「死亡者」の合計と一致するが、確認中が含まれるため一致しない場合もある。厚生<br>労働省が訂正を発表したケース、発表がなくても誤記を訂正したと思われるケースは遡及修正した。</p>
<p>データソース：都道府県別の数字も含めて原則として<a>厚生労働省の報道発表資料</a>より。ただし都道府県の<br>データは都道府県の発表から修正することがある。</p>
<p>チャート描画：<a>Chart.js</a>。マップ描画：<a>Japan Map</a>。アイコン：<a>Material Design</a>。</p>
<p>更新履歴・ソースコード：<a>GitHub</a> | <a>CSVデータのダウンロード</a></p>`);
add(document.body,'soc','left:543px;background:#3b5998','<svg viewBox="0 0 24 24"><path d="M14 8h3V4h-3c-2.8 0-5 2.2-5 5v2H7v4h2v9h4v-9h3l1-4h-4V9c0-.6.4-1 1-1z"/></svg>');
add(document.body,'soc','left:609.5px;background:#1da1f2','<svg viewBox="0 0 24 24"><path d="M23.953 4.57a10 10 0 01-2.825.775 4.958 4.958 0 002.163-2.723c-.951.555-2.005.959-3.127 1.184a4.92 4.92 0 00-8.384 4.482C7.69 8.095 4.067 6.13 1.64 3.162a4.822 4.822 0 00-.666 2.475c0 1.71.87 3.213 2.188 4.096a4.904 4.904 0 01-2.228-.616v.06a4.923 4.923 0 003.946 4.827 4.996 4.996 0 01-2.212.085 4.936 4.936 0 004.604 3.417 9.867 9.867 0 01-6.102 2.105c-.39 0-.779-.023-1.17-.067a13.995 13.995 0 007.557 2.209c9.053 0 13.998-7.496 13.998-13.985 0-.21 0-.42-.015-.63A9.935 9.935 0 0024 4.59z"/></svg>');
</script>
</body></html>
